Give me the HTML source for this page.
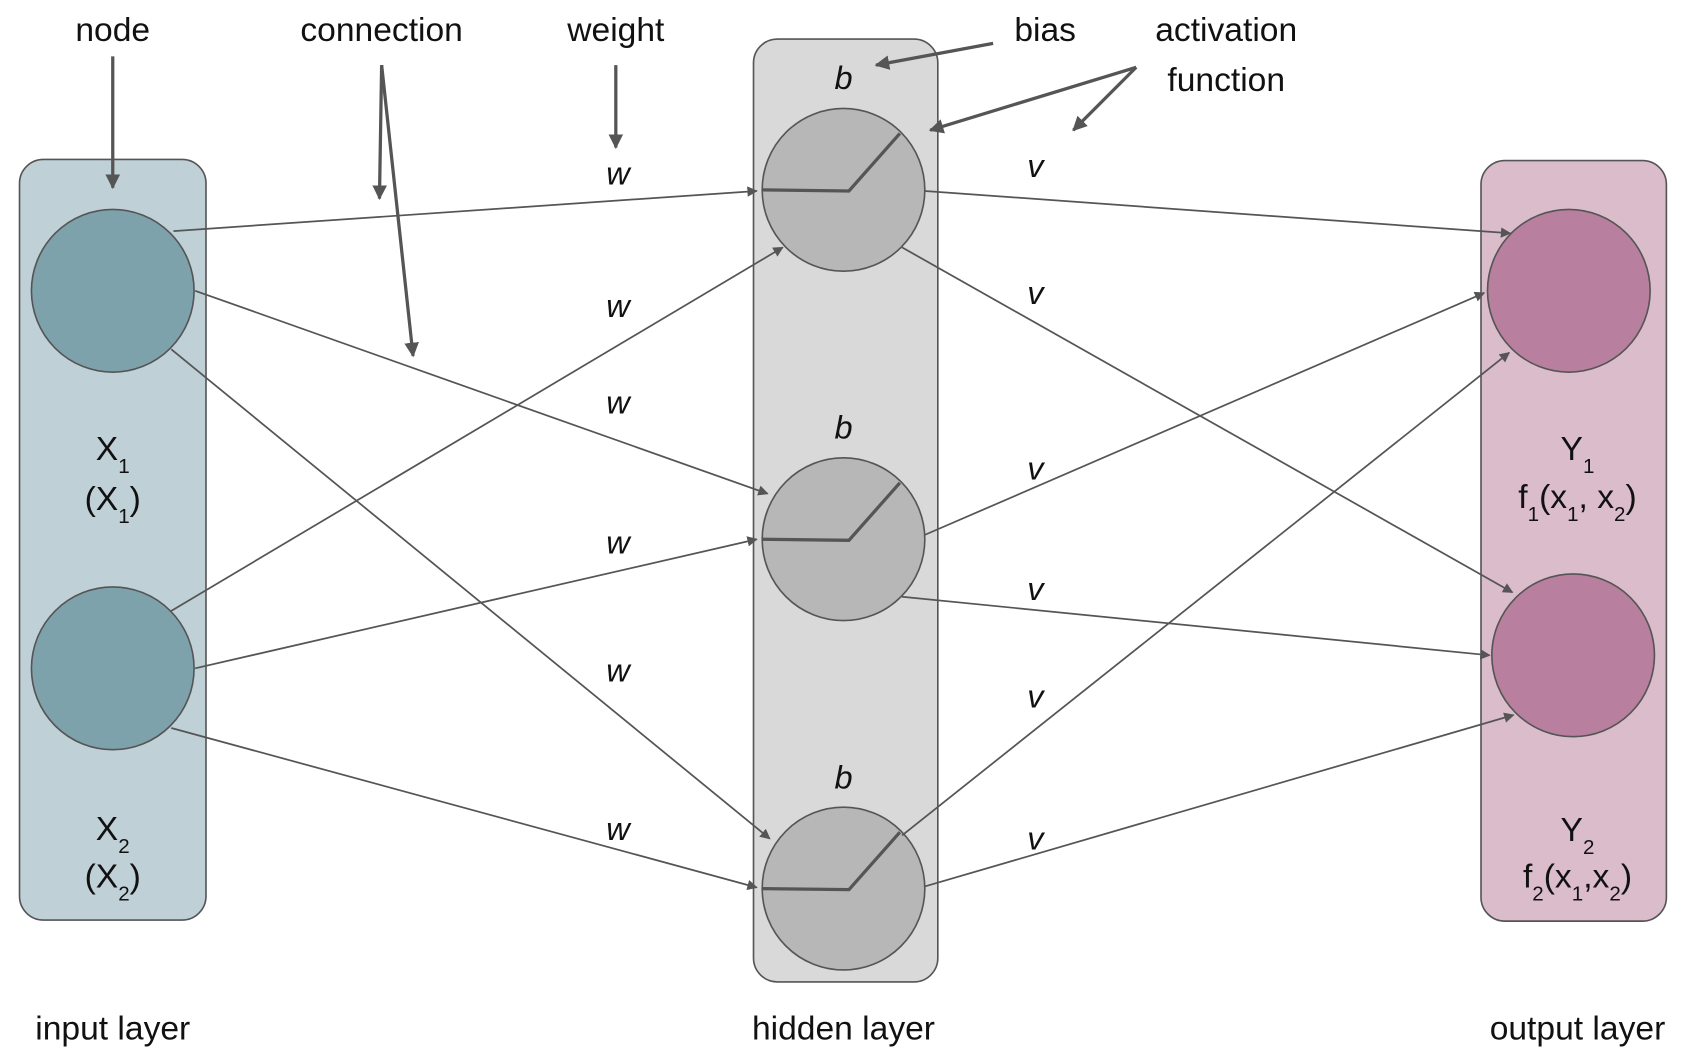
<!DOCTYPE html>
<html><head><meta charset="utf-8"><style>
html,body{margin:0;padding:0;background:#fff;}
svg{display:block;}
text{font-family:"Liberation Sans",Arial,sans-serif;fill:#111;}
.l{font-size:31px;text-anchor:middle;}
.i{font-size:30px;font-style:italic;text-anchor:middle;}
.s{font-size:19px;}
</style></head><body>
<svg width="1700" height="1060" viewBox="0 0 1568 977" preserveAspectRatio="none" xmlns="http://www.w3.org/2000/svg">
<defs>
<marker id="a" viewBox="0 0 10 10" refX="9" refY="5" markerWidth="6" markerHeight="6" orient="auto"><path d="M0,0 L10,5 L0,10 z" fill="#555"/></marker>
<marker id="b" viewBox="0 0 10 10" refX="9" refY="5" markerWidth="4.5" markerHeight="4.5" orient="auto"><path d="M0,0 L10,5 L0,10 z" fill="#555"/></marker>
</defs>
<rect x="18" y="147" width="172" height="701" rx="22" fill="#bfd0d7" stroke="#555" stroke-width="1.5"/>
<rect x="695" y="36" width="170" height="869" rx="22" fill="#d9d9d9" stroke="#555" stroke-width="1.5"/>
<rect x="1366" y="148" width="171" height="701" rx="22" fill="#dbbccb" stroke="#555" stroke-width="1.5"/>
<g fill="#7ea2ab" stroke="#555" stroke-width="1.5">
<circle cx="104" cy="268" r="75"/><circle cx="104" cy="616" r="75"/></g>
<g fill="#b7b7b7" stroke="#555" stroke-width="1.5">
<circle cx="778" cy="175" r="75"/><circle cx="778" cy="497" r="75"/><circle cx="778" cy="819" r="75"/></g>
<g fill="#b87f9e" stroke="#555" stroke-width="1.5">
<circle cx="1447" cy="268" r="75"/><circle cx="1451" cy="604" r="75"/></g>
<g fill="none" stroke="#555" stroke-width="3">
<path d="M703,175 L783,176 L830,123"/><path d="M703,497 L783,498 L830,445"/><path d="M703,819 L783,820 L830,767"/></g>
<g stroke="#555" stroke-width="1.6" fill="none" marker-end="url(#a)">
<line x1="160" y1="213" x2="698" y2="176"/>
<line x1="180" y1="268" x2="708" y2="455"/>
<line x1="158" y1="322" x2="710" y2="773"/>
<line x1="158" y1="563" x2="722" y2="228"/>
<line x1="180" y1="616" x2="698" y2="497"/>
<line x1="158" y1="671" x2="698" y2="818"/>
<line x1="853" y1="176" x2="1393" y2="215"/>
<line x1="832" y1="228" x2="1395" y2="546"/>
<line x1="853" y1="493" x2="1369" y2="270"/>
<line x1="832" y1="550" x2="1374" y2="604"/>
<line x1="832" y1="770" x2="1392" y2="325"/>
<line x1="853" y1="817" x2="1396" y2="659"/>
</g>
<g stroke="#555" stroke-width="3" fill="none" marker-end="url(#b)">
<line x1="104" y1="52" x2="104" y2="173"/>
<line x1="352" y1="60" x2="350" y2="183"/>
<line x1="352" y1="60" x2="381" y2="328"/>
<line x1="568" y1="60" x2="568" y2="136"/>
<line x1="916" y1="40" x2="808" y2="60"/>
<line x1="1048" y1="62" x2="858" y2="120"/>
<line x1="1048" y1="62" x2="990" y2="120"/>
</g>
<text class="l" x="104" y="38">node</text>
<text class="l" x="352" y="38">connection</text>
<text class="l" x="568" y="38">weight</text>
<text class="l" x="964" y="38">bias</text>
<text class="l" x="1131" y="38">activation</text>
<text class="l" x="1131" y="84">function</text>
<g class="i">
<text class="i" x="570" y="170">w</text><text class="i" x="570" y="292">w</text><text class="i" x="570" y="381">w</text>
<text class="i" x="570" y="510">w</text><text class="i" x="570" y="628">w</text><text class="i" x="570" y="774">w</text>
<text class="i" x="955" y="163">v</text><text class="i" x="955" y="280">v</text><text class="i" x="955" y="442">v</text>
<text class="i" x="955" y="553">v</text><text class="i" x="955" y="652">v</text><text class="i" x="955" y="783">v</text>
<text class="i" x="778" y="82">b</text><text class="i" x="778" y="404">b</text><text class="i" x="778" y="727">b</text>
</g>
<text class="l" x="104" y="424">X<tspan class="s" dy="12">1</tspan></text>
<text class="l" x="104" y="470">(X<tspan class="s" dy="12">1</tspan><tspan dy="-12">)</tspan></text>
<text class="l" x="104" y="774">X<tspan class="s" dy="12">2</tspan></text>
<text class="l" x="104" y="818">(X<tspan class="s" dy="12">2</tspan><tspan dy="-12">)</tspan></text>
<text class="l" x="1455" y="424">Y<tspan class="s" dy="12">1</tspan></text>
<text class="l" x="1455" y="468">f<tspan class="s" dy="12">1</tspan><tspan dy="-12">(x</tspan><tspan class="s" dy="12">1</tspan><tspan dy="-12">, x</tspan><tspan class="s" dy="12">2</tspan><tspan dy="-12">)</tspan></text>
<text class="l" x="1455" y="775">Y<tspan class="s" dy="12">2</tspan></text>
<text class="l" x="1455" y="818">f<tspan class="s" dy="12">2</tspan><tspan dy="-12">(x</tspan><tspan class="s" dy="12">1</tspan><tspan dy="-12">,x</tspan><tspan class="s" dy="12">2</tspan><tspan dy="-12">)</tspan></text>
<text class="l" x="104" y="958">input layer</text>
<text class="l" x="778" y="958">hidden layer</text>
<text class="l" x="1455" y="958">output layer</text>
</svg>
</body></html>
